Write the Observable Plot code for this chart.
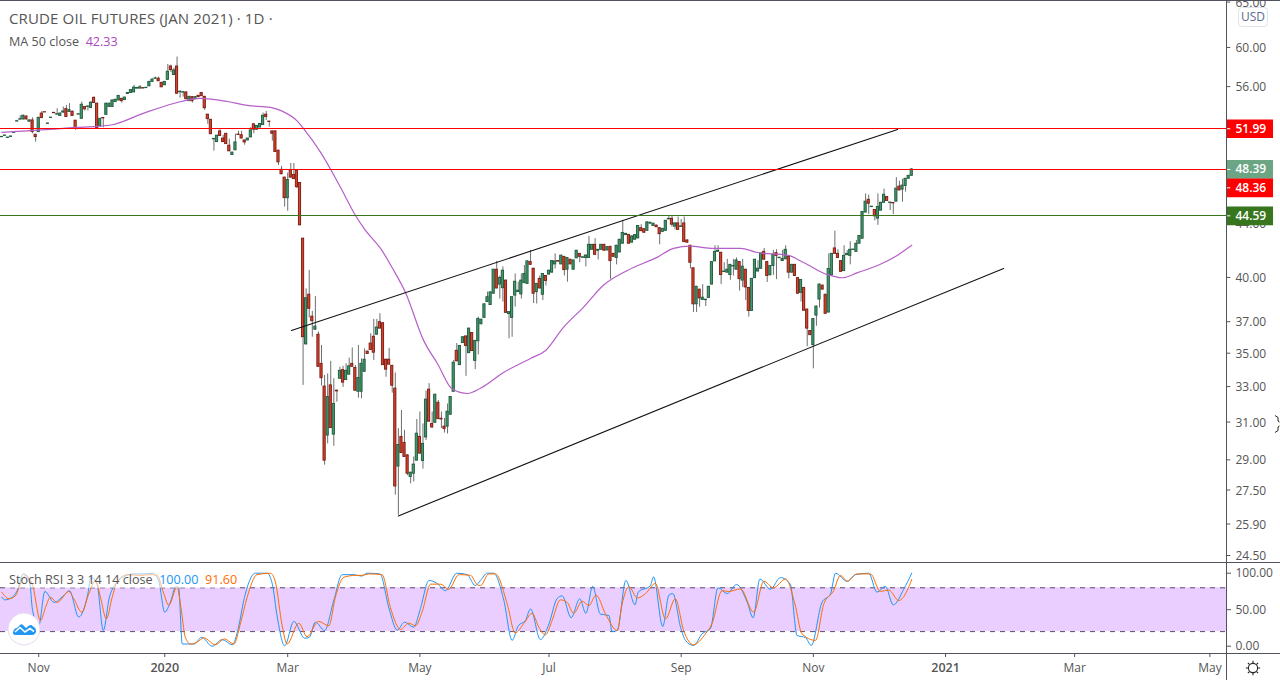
<!DOCTYPE html>
<html>
<head>
<meta charset="utf-8">
<script src="https://cdn.jsdelivr.net/npm/d3@7"></script>
<script src="https://cdn.jsdelivr.net/npm/@observablehq/plot@0.6"></script>
<style>
html,body{margin:0;padding:0;background:#fff;overflow:hidden}
#root{position:relative;width:1280px;height:680px;font-family:"Open Sans",sans-serif;color:#555}
#root svg{display:block;background:transparent}
.chrome{position:absolute;background:#50535e}
.abs{position:absolute;white-space:nowrap}
</style>
</head>
<body>
<div id="root">
  <div id="main" class="abs" style="left:0;top:0"></div>
  <div id="stoch" class="abs" style="left:0;top:563px"></div>
  <div class="chrome" style="left:0;top:0;width:1280px;height:1px"></div>
  <div class="chrome" style="left:0;top:562px;width:1280px;height:1px"></div>
  <div class="chrome" style="left:0;top:653px;width:1280px;height:1px"></div>
  <div class="chrome" style="left:1226px;top:0;width:1px;height:680px"></div>
  <div class="abs" style="left:9px;top:7.5px;font-size:15px;letter-spacing:.14px;color:#555">CRUDE OIL FUTURES (JAN 2021) · 1D ·</div>
  <div class="abs" style="left:9px;top:33px;font-size:12.6px;color:#555">MA 50 close&nbsp; <span style="color:#ab47bc">42.33</span></div>
  <div class="abs" style="left:9px;top:571px;height:17px;line-height:17px;font-size:12.6px;color:#555;background:rgba(255,255,255,.55)">Stoch RSI 3 3 14 14 close&nbsp; <span style="color:#2196f3">100.00</span>&nbsp; <span style="color:#ff6d00">91.60</span></div>
  <div class="abs" style="left:1238px;top:7px;width:28px;height:18px;border:1px solid #e0e3eb;border-radius:4px;text-align:center;font-size:12px;line-height:18px;color:#5a6a8c">USD</div>
  <svg class="abs" style="left:7px;top:612px" width="34" height="34" viewBox="0 0 34 34"><circle cx="17" cy="17" r="16" fill="#fff" stroke="#e8dbf0"/><path d="M6 21 C6 18 8 16 10 16 L13 13 C14 12 15 12 16 13 L19 16 L22 13.5 C23.5 12.5 25 13 26 14.5 C28 15 29 17 29 19 C29 21.5 27 23 25 23 L8 23 C7 23 6 22 6 21 Z" fill="#2196f3"/><path d="M8 20 L13 15.5 L18 20 L23 16.5 L27 19.5" fill="none" stroke="#fff" stroke-width="1.6"/></svg>
  <svg class="abs" style="left:1245px;top:660px" width="16" height="16" viewBox="0 0 16 16"><circle cx="8" cy="8" r="4.6" fill="none" stroke="#222" stroke-width="1.1"/><path d="M8 .8V3M8 13V15.2M.8 8H3M13 8H15.2M2.9 2.9L4.4 4.4M11.6 11.6L13.1 13.1M2.9 13.1L4.4 11.6M11.6 4.4L13.1 2.9" stroke="#222" stroke-width="1.1"/></svg>
  <svg class="abs" style="left:1274px;top:414px" width="6" height="20" viewBox="0 0 6 20"><path d="M1 1.5L4 3.5V7L5.5 8M5.5 12L4 13V16.5L1 18.5" fill="none" stroke="#222" stroke-width="1"/></svg>
</div>
<script>
// Daily OHLC of the bars, oldest first
const opens = [
51.22,51.34,51.15,51.25,51.61,52.65,52.83,52.85,53.12,52.64,
52.76,51.44,51.68,53.4,53.53,52.44,52.98,53.47,53.3,53.18,
53.49,53.82,53.55,53.58,52.73,53.3,52.91,54.02,54.04,53.92,
54.9,54.34,52.2,52.99,53.28,54.02,54.02,54.49,54.65,54.81,
54.68,55.28,55.37,55.43,55.8,55.8,55.85,55.85,56.03,56.47,
56.78,56.78,56.37,56.13,56.67,58.02,57.15,58.02,55.45,55.41,
55.43,54.58,54.97,54.77,55.1,55.37,55.0,53.3,52.82,51.03,
50.78,51.75,51.1,51.53,50.46,49.64,50.05,51.46,51.4,50.93,
50.93,51.2,52.4,51.9,52.1,52.33,53.3,52.65,51.75,51.75,
50.02,48.36,47.7,46.0,48.3,47.93,48.3,47.25,42.83,35.55,
38.8,37.33,36.48,36.16,34.35,33.0,30.27,33.07,30.32,32.76,
33.46,33.97,33.38,33.7,34.35,34.1,32.7,32.7,33.87,35.1,
35.6,36.03,36.16,36.97,36.9,34.6,34.6,34.23,32.88,28.66,
30.2,29.88,29.23,28.14,28.3,28.96,30.2,28.94,30.17,32.82,
30.9,30.96,32.07,31.18,30.75,30.75,31.4,32.7,35.15,34.27,
35.63,36.05,35.0,36.27,34.53,35.74,36.83,37.25,38.3,38.1,
38.87,40.55,39.5,39.25,39.78,37.5,37.25,38.74,38.98,38.82,
39.6,39.55,41.1,40.62,38.98,39.9,38.8,40.1,40.2,40.34,
40.93,41.17,40.93,41.48,40.55,41.27,40.55,41.37,41.7,41.41,
41.4,41.4,42.0,42.37,41.93,42.0,42.37,41.95,42.22,41.7,
41.4,41.8,42.45,43.1,43.12,42.53,42.75,42.85,43.63,43.55,
43.43,43.98,43.8,43.83,43.63,43.35,43.43,44.31,44.36,43.75,
44.0,43.73,44.0,42.7,42.3,40.65,38.15,39.15,38.45,38.43,
38.58,39.5,41.15,41.85,41.78,40.38,40.34,40.17,40.78,40.55,
41.1,39.78,40.55,39.27,37.7,39.95,40.42,40.62,41.85,41.1,
40.15,40.82,41.75,41.38,41.17,41.3,41.48,40.34,40.9,39.95,
38.93,39.27,37.8,36.4,35.5,37.4,38.47,39.43,38.8,37.6,
40.15,42.1,41.7,41.17,40.45,41.6,41.55,41.98,41.85,42.45,
42.83,44.85,45.87,45.28,45.05,44.37,45.0,45.63,46.1,45.61,
45.62,45.72,46.95,46.7,47.0,47.6,47.85];
const highs = [
51.25,51.38,51.19,51.29,51.65,52.69,53.2,53.25,53.2,52.8,
53.0,51.5,53.05,53.6,53.55,52.48,53.02,53.49,53.86,53.45,
54.02,54.17,54.34,53.62,52.78,53.34,54.49,54.06,54.08,54.55,
55.0,54.38,52.95,53.02,54.38,54.38,54.68,54.75,55.12,54.84,
54.96,55.4,55.7,56.12,55.92,56.1,55.88,55.9,56.5,56.75,
56.95,56.95,56.42,56.5,58.22,58.15,57.85,59.0,55.6,55.5,
55.47,55.05,55.0,55.0,55.14,55.4,55.05,53.33,52.85,51.07,
51.4,51.9,51.4,51.56,51.05,49.88,51.5,51.75,51.75,50.96,
51.13,52.1,52.43,52.28,52.46,53.45,53.6,52.68,51.78,51.78,
50.05,48.65,47.73,48.08,48.9,48.9,48.33,47.28,42.86,39.2,
40.5,37.68,38.67,36.33,35.48,33.65,33.75,34.5,33.46,32.8,
34.15,34.2,34.35,34.7,35.32,34.25,35.48,34.65,35.27,35.13,
36.22,37.15,37.15,37.52,36.93,34.63,35.3,34.26,33.8,30.64,
31.64,30.55,29.26,28.38,29.15,31.14,31.55,30.9,32.74,33.17,
31.55,32.56,32.2,31.55,31.2,32.0,32.43,34.56,35.6,35.48,
36.03,36.08,36.58,36.3,35.8,37.3,37.16,38.18,38.98,38.99,
40.58,41.15,40.1,40.75,39.81,37.66,38.66,40.25,39.67,40.25,
40.85,41.18,41.95,40.65,39.58,40.1,40.28,40.13,40.5,41.2,
41.7,41.2,41.6,41.5,41.43,41.3,41.25,41.96,41.73,41.46,
41.6,43.0,42.4,42.83,42.02,42.4,42.4,42.23,42.25,41.73,
42.33,42.78,44.23,43.23,43.15,43.03,43.13,43.83,43.9,43.58,
44.11,44.08,44.0,43.86,43.66,43.6,44.23,44.6,44.55,44.03,
44.5,44.3,44.5,42.73,42.33,40.68,39.38,39.18,39.5,38.47,
39.38,41.13,42.3,42.3,41.81,41.05,41.3,40.93,41.3,41.4,
41.13,41.3,40.58,39.3,39.93,41.3,41.2,41.76,42.1,41.13,
40.85,41.95,42.0,41.42,41.95,42.3,41.51,40.93,40.93,39.98,
39.85,39.3,37.83,36.43,37.2,38.03,39.55,39.46,38.83,41.7,
41.73,43.4,42.0,41.2,42.3,41.95,42.6,42.02,42.7,43.06,
44.93,46.35,46.25,45.32,45.08,46.35,45.66,46.75,46.13,45.65,
45.65,47.7,47.4,47.55,47.63,47.88,48.47];
const lows = [
51.2,51.34,51.15,51.25,51.61,52.65,52.83,52.8,52.8,52.6,
51.53,50.78,51.64,52.95,53.5,52.44,52.98,53.43,53.28,53.15,
53.45,53.05,53.5,53.15,51.84,53.3,52.88,53.64,53.64,53.9,
54.38,52.03,52.18,52.08,53.25,54.0,54.0,54.47,54.62,54.4,
54.66,55.26,55.35,55.4,55.78,55.78,55.8,55.83,56.0,56.45,
56.75,56.5,55.9,56.1,56.65,57.4,57.1,55.25,54.87,54.97,
54.75,54.55,54.4,54.72,54.95,55.04,53.7,52.4,51.47,49.98,
50.75,51.3,50.75,50.58,49.93,49.6,50.02,51.42,51.08,50.5,
50.9,51.18,51.53,51.88,52.08,52.3,52.76,52.14,50.87,49.88,
48.72,47.95,45.28,44.95,47.68,47.55,46.78,43.83,33.07,35.5,
37.25,36.0,36.45,34.15,33.03,28.73,29.83,30.65,29.7,32.1,
33.44,32.95,33.36,33.68,34.15,32.74,32.33,32.3,33.85,34.93,
35.18,34.56,36.14,36.53,34.25,33.55,34.28,32.62,27.25,26.3,
29.33,29.13,28.2,27.8,27.89,28.94,29.3,28.53,30.0,31.0,
30.68,30.94,31.14,30.65,30.4,30.35,31.38,32.68,34.48,34.25,
35.6,33.6,34.98,35.11,34.0,34.9,36.8,37.22,38.28,38.08,
38.85,39.21,38.5,38.3,37.56,35.9,36.0,37.96,38.96,38.5,
39.58,39.53,40.88,38.2,38.17,39.21,38.4,39.4,40.18,40.32,
40.6,41.1,40.91,40.1,39.67,40.91,40.53,41.35,41.05,41.39,
40.75,41.38,41.98,41.61,41.25,41.98,41.91,41.93,39.87,41.46,
40.9,41.78,42.43,43.08,42.43,42.51,42.73,42.83,43.38,43.26,
43.41,43.96,43.78,43.68,42.37,43.33,43.41,44.29,43.7,43.5,
43.48,43.7,42.55,42.51,40.6,37.6,37.6,37.95,38.43,38.0,
38.56,39.48,41.13,41.83,39.5,40.36,40.32,39.8,40.1,40.53,
39.05,39.3,38.4,37.3,37.68,39.93,40.4,40.6,41.25,39.65,
40.13,40.15,39.85,41.36,41.15,41.28,39.9,40.32,40.08,38.85,
38.3,37.7,35.4,36.11,34.05,36.7,37.9,39.13,37.5,37.58,
40.13,41.68,41.38,40.38,40.43,41.58,40.9,41.96,41.83,42.43,
42.81,44.83,44.7,45.26,44.2,43.85,44.98,45.61,45.76,45.0,
44.7,45.7,46.61,45.68,46.5,47.58,47.83];
const closes = [
51.25,51.38,51.19,51.29,51.65,52.69,52.87,53.2,52.85,52.76,
51.68,51.23,53.0,52.97,53.5,52.48,53.02,53.43,53.34,53.4,
53.6,53.08,53.73,53.18,52.0,53.34,54.24,53.8,54.08,54.43,
54.4,52.05,52.91,52.95,54.34,54.34,54.65,54.72,55.09,54.58,
54.93,55.37,55.66,55.9,55.87,55.93,55.81,55.89,56.47,56.7,
56.82,56.53,55.93,56.47,57.49,57.65,57.62,55.3,55.49,55.45,
54.77,55.0,54.58,54.97,54.97,55.06,53.9,52.88,51.49,51.07,
51.36,51.33,50.78,50.6,49.96,49.85,50.75,51.42,51.1,50.75,
51.1,51.84,51.9,52.25,52.43,53.2,53.08,52.61,51.53,49.9,
49.0,47.98,46.0,47.5,47.7,47.57,46.9,43.85,36.0,38.56,
37.85,37.03,36.68,34.17,33.49,28.96,32.4,30.67,32.0,32.72,
33.93,33.23,33.93,34.2,34.17,32.76,33.5,34.35,34.6,34.95,
35.2,35.03,36.62,36.55,34.27,34.0,34.3,33.05,27.67,29.77,
29.35,29.15,28.3,28.35,28.76,30.37,29.32,29.83,32.25,31.02,
30.7,32.53,31.16,31.14,30.62,31.57,32.4,34.42,34.5,35.45,
36.0,35.45,36.55,35.13,35.77,37.18,37.13,38.15,38.63,38.96,
40.55,39.23,39.97,40.48,37.58,37.63,38.63,39.7,39.08,39.78,
40.25,41.15,40.9,38.87,39.55,39.23,40.25,39.75,40.48,41.17,
41.15,41.13,41.57,40.52,41.4,40.93,41.22,41.93,41.48,41.45,
41.58,42.37,42.37,41.63,42.0,42.37,41.93,42.2,41.17,41.48,
42.3,42.75,43.26,43.2,42.45,43.0,43.1,43.8,43.4,43.28,
44.08,44.05,43.98,43.7,43.17,43.58,44.2,44.35,43.9,44.0,
43.5,43.77,42.57,42.53,41.05,38.15,39.35,38.55,38.6,38.47,
39.35,41.1,41.85,41.93,40.17,40.42,40.55,40.9,40.82,41.22,
39.88,40.77,39.3,37.7,39.9,41.27,40.62,41.73,41.27,40.1,
40.82,41.63,41.55,41.42,41.32,42.0,40.34,40.9,40.1,38.87,
39.82,37.72,36.55,36.13,37.17,38.0,39.5,39.15,37.52,40.6,
41.7,41.7,41.4,40.4,41.55,41.7,42.0,42.02,42.45,43.03,
44.9,45.72,45.55,45.32,44.55,45.3,45.63,46.28,45.78,45.65,
45.58,46.78,46.63,47.03,47.6,47.85,48.39];

// 50-bar moving average, sampled along the curve
const maBars = [0,15.8,24,31.1,36.3,46,55.9,64.6,73.4,79.9,87.4,90.6,96.2,98.1,103.7,110.2,115,118.3,123.2,127.1,131.3,137.2,141.7,146.6,151.5,155.7,163.2,172,176.9,182.7,189.2,195.7,203.5,213.3,218.5,224,231.5,240.3,245.8,255.6,260.8,268.6,273.5,278.4,284.9,291.4,296];
const maValues = [51.66,51.93,52.11,52.2,52.38,53.42,54.36,54.85,54.55,54.17,53.98,53.7,52.67,52.02,49.87,46.88,44.64,43.46,42.1,40.65,38.96,35.8,34.37,32.84,32.6,32.9,33.83,34.68,35.17,36.63,37.95,39.45,40.5,41.46,42.1,42.27,42.1,42.1,41.8,41.6,41.07,40.2,39.98,40.34,40.85,41.6,42.33];

// Stochastic RSI lines, sampled along the curves
const kBars = [0,1,3,5,7,9,10,12,14,17,20,22,25,28,29,31,33,35,37,40,43,46,49,51,53,55,56.5,57.5,58.7,62.5,65,68.4,71.7,75,77,78.7,82.5,86.3,88,89.6,92,95,98.5,100,102,105,108,110.7,114.5,117,118.8,123,126,128.6,131,134,136,139,141.6,144.3,148,151.4,154,155.7,157.9,160,163.3,166,168,170.3,172,175.2,178,180.6,182.3,185.2,188,190,192.2,194.7,197.5,198.5,200.2,203,206,207,211,212,215,217,218.3,220.8,222.4,225,227.8,230.5,233,236,239,242.5,244.4,246.6,250,253.3,256.5,258.7,261.4,263.3,266.8,269.6,271.2,275,277.7,282,284.7,287.4,290,293.4,296];
const kValues = [67,63.5,66,76,99,90,49,28,75,60,69,76,40,72,94.5,84.5,21.5,67,85,96,99,99,100,90,46.6,62.6,81,81,3,3,12.3,0,9,2,26,62.6,100,100,85,40,0.5,34,11,12,33,21.5,63,98,98,96,100,99,51,22,33,26,49,90,86,76,100,98,83,90,100,100,63,8,28,35,51,9,30.6,65,69,39,65,45,82,44,42,20,21.5,90,56.6,74,83,95,27,70,72,26,8,1,17,24,80,72,84.5,60,39,92,78,94,85,14.6,12,1,60,72,100,89,98,100,74,82,56.6,78,100];
const dBars = [0,2.3,4.4,6,7.7,9.9,12.6,14.2,15.8,18,21.8,23.4,26,28.3,30.5,32.1,34,35.9,37.5,40.8,45,48.4,50.5,52.7,54.3,57,58.1,59.7,61.4,63.5,65.7,69.5,72.4,75.5,77.6,79.8,83,87.4,89,91.2,92.8,96.6,99.3,103,106.4,108.5,111.3,115,117.2,119.4,123.7,126.4,129.7,132.4,134.6,136.7,139.5,142.7,145.4,148.7,152.5,154.6,155.7,158.4,160.6,164.4,167,169.8,172.5,174.7,176.8,179,181.7,183.9,186,188.8,191,193.3,196.4,200.2,201.8,204,206.7,209.4,212.6,215.9,219.1,221.8,225,228.9,231,234.3,236.5,240.3,244.6,247.9,251,255,258,260.3,264.7,267.4,270.6,272.8,275,278.2,282.6,285.8,288.5,291.8,294.5,296];
const dValues = [74,65,69,85,97,85,35,53,67,60,75,65,46.6,72,90,67,37.4,67,88,98,97,98,97,72,56,81,58,12,3,5.5,11.4,2,10,3,30.6,67,98,100,87.7,28,3,31.5,13,34,28,67,94.5,97,97,99,98,53,23,31.5,28,46.6,85,85,78,98,97,84.5,83,99,99,58,18.3,31,45,26,15.5,35,63.5,60,45,61.6,55.7,70,44,21.5,58,81.7,66,72,86,37.4,65,21.5,2,17,30.6,76,75,78.5,46.6,89,80,92,58,17,8,58,76,97,89,99,99,75,77,62.6,76,91.6];

// Drawn trend lines: bar number and price of each end
const upperBars = [94.2,291.4];
const upperPrices = [36.43,51.93];
const lowerBars = [129,325.9];
const lowerPrices = [26.27,40.64];

// Horizontal levels and axis text
const levelPrices = [51.99,48.36,44.59];
const levelColors = ["#ff0000","#ff0000","#38761d"];
const priceTicks = [65,60,56,44,40,37,35,33,31,29,27.5,25.9,24.5];
const tagPrices = [51.99,44.59];
const tagColors = ["#ff0000","#38761d"];
const lastPrice = 48.39;
const monthBars = [12,93,136,178,221,264,349,393];
const monthNames = ["Nov","Mar","May","Jul","Sep","Nov","Mar","May"];
const yearBars = [53,307];
const yearNames = ["2020","2021"];
const stochTicks = [0,50,100];
const stochBand = [20,80];

const font = '"Open Sans",sans-serif';
const xDomain = [-0.433,398.4];
const xRange = [0,1226];
const tagEnd = xDomain[1] + 15.3;
const tickEnd = xDomain[1] + 1.4;
const bars = d3.range(opens.length);
const up = i => closes[i] >= opens[i];
const axisColor = "#555";

const main = Plot.plot({
  width:1280,height:563,margin:0,marginRight:54,
  style:{fontFamily:font,background:"transparent",overflow:"visible"},
  x:{domain:xDomain,range:xRange,axis:null},
  y:{type:"log",domain:[24.2,65.18],range:[562,0],axis:null},
  marks:[
    Plot.ruleX(bars,{x:i=>i,y1:i=>lows[i],y2:i=>highs[i],stroke:"#6f6f6f",strokeWidth:1}),
    Plot.rect(bars,{x1:i=>i-0.36,x2:i=>i+0.36,y1:i=>opens[i],y2:i=>closes[i],
      fill:i=>up(i)?"#43966d":"#d6432c",stroke:i=>up(i)?"#1e5a3c":"#7a1b12",strokeWidth:0.9}),
    Plot.line(maValues,{x:(d,i)=>maBars[i],y:d=>d,stroke:"#b65fc9",strokeWidth:1.2,curve:"monotone-x"}),
    Plot.line(upperPrices,{x:(d,i)=>upperBars[i],y:d=>d,stroke:"#111",strokeWidth:1.1}),
    Plot.line(lowerPrices,{x:(d,i)=>lowerBars[i],y:d=>d,stroke:"#111",strokeWidth:1.1}),
    Plot.ruleY(levelPrices,{y:d=>d,x1:xDomain[0],x2:xDomain[1],stroke:(d,i)=>levelColors[i],strokeWidth:1,shapeRendering:"crispEdges"}),
    Plot.ruleY(priceTicks,{y:d=>d,x1:xDomain[1],x2:tickEnd,stroke:axisColor,strokeWidth:1}),
    Plot.axisY(priceTicks,{anchor:"right",tickSize:0,tickPadding:9,dy:0.7,tickFormat:d=>d.toFixed(2),fontSize:12,fill:axisColor,label:null}),
    // price tags on the axis
    Plot.ruleY([lastPrice],{y:d=>d,x1:xDomain[1],x2:tagEnd,stroke:"#6ba583",strokeWidth:18.7}),
    Plot.ruleY([levelPrices[1]],{y:d=>d,x1:xDomain[1],x2:tagEnd,stroke:"#ff0000",strokeWidth:18.7,dy:18}),
    Plot.ruleY(tagPrices,{y:d=>d,x1:xDomain[1],x2:tagEnd,stroke:(d,i)=>tagColors[i],strokeWidth:18.7}),
    Plot.ruleY(tagPrices.concat([lastPrice]),{y:d=>d,x1:xDomain[1],x2:tickEnd,stroke:"#fff",strokeWidth:1}),
    Plot.ruleY([levelPrices[1]],{y:d=>d,x1:xDomain[1],x2:tickEnd,stroke:"#fff",strokeWidth:1,dy:18}),
    Plot.text(tagPrices.concat([lastPrice]),{y:d=>d,x:xDomain[1],dx:9,text:d=>d.toFixed(2),textAnchor:"start",fill:"#fff",fontSize:12,fontWeight:600}),
    Plot.text([levelPrices[1]],{y:d=>d,x:xDomain[1],dx:9,dy:18,text:d=>d.toFixed(2),textAnchor:"start",fill:"#fff",fontSize:12,fontWeight:600})
  ]
});
document.getElementById("main").appendChild(main);

const stoch = Plot.plot({
  width:1280,height:117,margin:0,marginRight:54,marginBottom:27,
  style:{fontFamily:font,background:"transparent",overflow:"visible"},
  x:{domain:xDomain,range:xRange,axis:null},
  y:{domain:[0,100],range:[82.7,9.7],axis:null},
  marks:[
    Plot.rect([stochBand],{x1:xDomain[0],x2:xDomain[1],y1:d=>d[0],y2:d=>d[1],fill:"#e9ceff"}),
    Plot.ruleY(stochBand,{y:d=>d,x1:xDomain[0],x2:xDomain[1],stroke:"#5c4a6e",strokeWidth:1,strokeDasharray:"5,5"}),
    Plot.line(kValues,{x:(d,i)=>kBars[i],y:d=>d,stroke:"#2196f3",strokeWidth:1,curve:"monotone-x"}),
    Plot.line(dValues,{x:(d,i)=>dBars[i],y:d=>d,stroke:"#ff6d00",strokeWidth:1,curve:"monotone-x"}),
    Plot.axisY(stochTicks,{anchor:"right",tickSize:4,tickPadding:5,tickFormat:d=>d.toFixed(2),fontSize:12,fill:axisColor,stroke:axisColor,label:null}),
    Plot.axisX(monthBars,{anchor:"bottom",tickSize:4,tickPadding:6,tickFormat:(d,i)=>monthNames[monthBars.indexOf(d)],fontSize:12,fill:axisColor,stroke:axisColor,label:null}),
    Plot.axisX(yearBars,{anchor:"bottom",tickSize:4,tickPadding:6,tickFormat:(d,i)=>yearNames[yearBars.indexOf(d)],fontSize:12.5,fontWeight:600,fill:axisColor,stroke:axisColor,label:null})
  ]
});
document.getElementById("stoch").appendChild(stoch);
</script>
</body>
</html>
